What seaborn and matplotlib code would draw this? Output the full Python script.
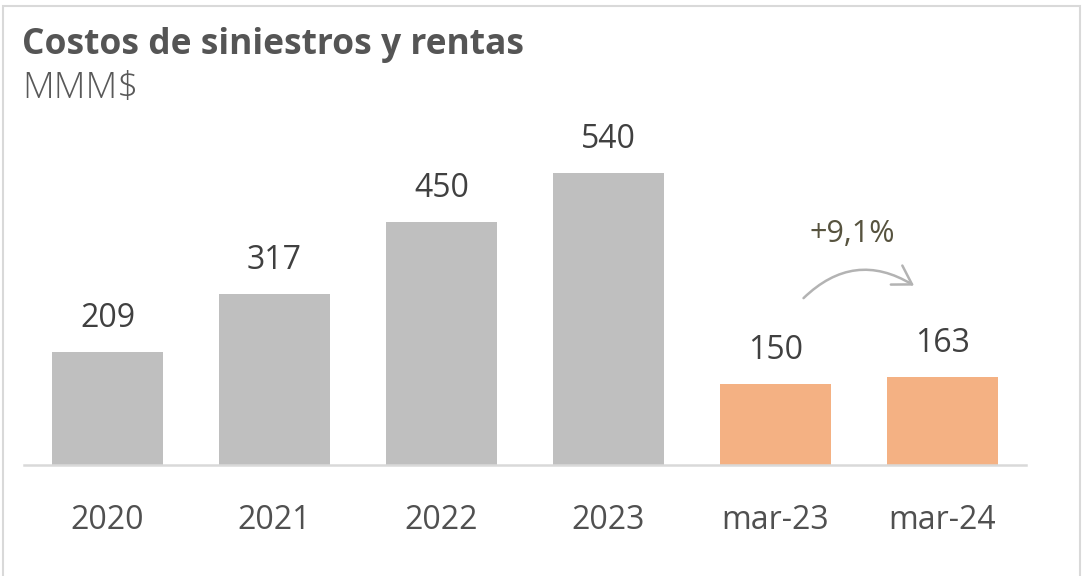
import pandas as pd
import matplotlib.pyplot as plt
import seaborn as sns
from matplotlib.patches import FancyArrowPatch, Rectangle

# Datos del gráfico
periodos = ["2020", "2021", "2022", "2023", "mar-23", "mar-24"]
costos = [209, 317, 450, 540, 150, 163]
tipo = ["anual", "anual", "anual", "anual", "trimestre", "trimestre"]
variacion = "+9,1%"

df = pd.DataFrame({"periodo": periodos, "costo": costos, "tipo": tipo})

sns.set_style("white")
plt.rcParams["font.family"] = ["Open Sans", "DejaVu Sans"]

fig = plt.figure(figsize=(10.83, 5.76), dpi=100)
ax = fig.add_axes([24 / 1083, 111 / 576, 1002 / 1083, 365 / 576])

sns.barplot(data=df, x="periodo", y="costo", hue="tipo",
            palette={"anual": "#bfbfbf", "trimestre": "#f4b183"},
            width=0.665, dodge=False, legend=False, saturation=1,
            linewidth=0, ax=ax)

# Etiquetas de valores
for i, v in enumerate(costos):
    ax.annotate(str(v), (i, v), xytext=(0, 24), textcoords="offset points",
                ha="center", va="center", fontsize=23, color="#404040")

ax.set_xlim(-0.5, 5.5)
ax.set_ylim(0, 675)
ax.set_xlabel("")
ax.set_ylabel("")
ax.set_yticks([])
ax.tick_params(axis="x", length=0, pad=28, labelsize=23, labelcolor="#505050")
for s in ["top", "right", "left"]:
    ax.spines[s].set_visible(False)
ax.spines["bottom"].set_color("#d9d9d9")
ax.spines["bottom"].set_linewidth(1.8)

# Flecha de variación
flecha = FancyArrowPatch((4.156, 305), (4.844, 329), connectionstyle="arc3,rad=-0.4",
                         arrowstyle="->,head_length=13,head_width=8",
                         color="#b3b3b3", lw=1.8, mutation_scale=1)
ax.add_patch(flecha)
ax.text(4.46, 427, variacion, ha="center", va="center", fontsize=22, color="#57533f")

# Títulos
fig.text(22 / 1083, 1 - 45 / 576, "Costos de siniestros y rentas", fontsize=25.5,
         fontweight="bold", color="#555555", va="center", ha="left")
fig.text(22 / 1083, 1 - 88 / 576, "MMM$", fontsize=26.5, fontweight="light",
         color="#595959", va="center", ha="left")

# Borde
fig.patches.append(Rectangle((0.003, -0.01), 0.994, 1.0, transform=fig.transFigure,
                             fill=False, edgecolor="#d9d9d9", lw=1.5))

fig.savefig("out.png", dpi=100)
